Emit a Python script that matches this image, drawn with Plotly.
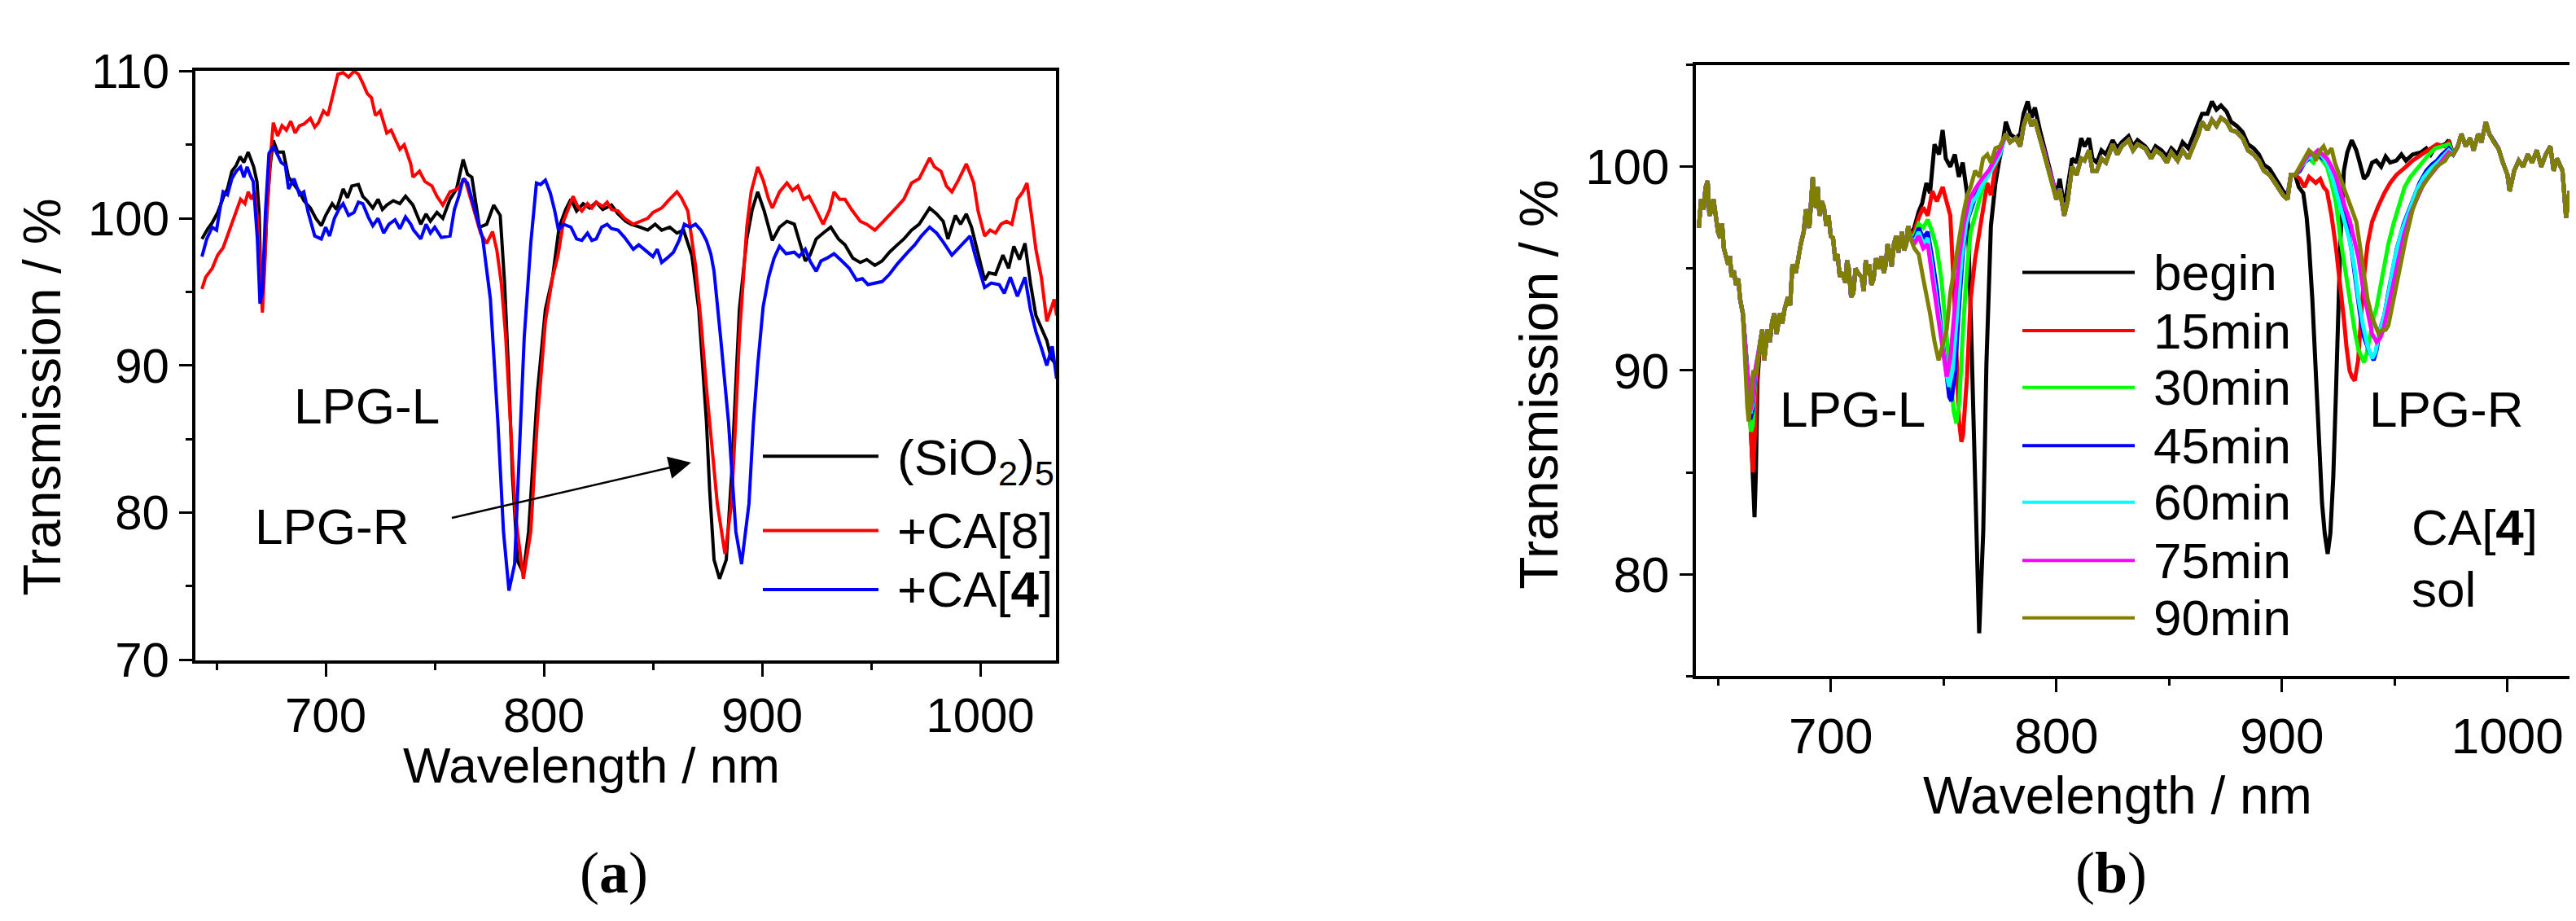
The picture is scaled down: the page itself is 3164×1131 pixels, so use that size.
import plotly.graph_objects as go

W, H = 3164, 1131

# ---------------- panel (a): (wavelength nm, transmission %)
A_NAMES = ['(SiO<sub>2</sub>)<sub>5</sub>', '+CA[8]', '+CA[<b>4</b>]']
A_COLORS = ['#000000', '#ff0000', '#0000ff']

A_SIO2 = [
    (643.3, 98.6), (646, 99.3), (648, 99.7), (650.5, 100.4), (653.3, 101.5), (655, 102.0),
    (657, 103.2), (659, 103.6), (660.8, 104.2), (662.5, 103.8), (664.5, 104.5), (666, 103.9),
    (667, 103.5), (668.5, 102.5), (669.5, 100.4), (670.5, 94.3), (672, 97.0), (673, 100.2),
    (674.5, 103.5), (676, 105.3), (678, 104.5), (680.6, 104.5), (682, 103.5), (683, 102.8),
    (685, 102.4), (688, 101.8), (690, 101.2), (693, 100.7), (695.5, 100.0), (698, 99.5),
    (700, 100.2), (703, 101.0), (705, 100.6), (708, 102.0), (710, 101.4), (712, 102.2),
    (715, 102.3), (717, 101.5), (719, 101.2), (721.6, 100.7), (724, 101.3), (726, 100.6),
    (728, 100.9), (731, 101.2), (734, 101.0), (736.6, 101.5), (740, 100.9), (743.6, 99.6),
    (746, 100.3), (748, 99.8), (751, 100.4), (753.7, 100.0), (757, 101.3), (760, 102.0),
    (763, 104.0), (765, 103.0), (767, 102.8), (770.5, 99.4), (773.8, 99.6), (777, 100.9),
    (780, 100.2), (782, 95.6), (784, 89.0), (785.6, 82.5), (788, 76.7), (790.6, 75.9),
    (793, 78.7), (795, 83.5), (797, 88.1), (800.7, 93.8), (804, 96.0), (807, 99.4),
    (810, 100.6), (812.4, 101.3), (815, 100.5), (818, 101.0), (821, 100.7), (824, 101.1),
    (827, 100.6), (831, 100.9), (834, 100.3), (837.6, 99.8), (840, 99.6), (844, 99.4),
    (847.6, 99.2), (851, 99.6), (854, 99.2), (857.7, 99.4), (861, 99.0), (864, 99.2),
    (867.8, 97.5), (871, 93.8), (874.5, 86.2), (876, 81.5), (878, 76.8), (880.5, 75.5),
    (883.6, 76.8), (886, 82.5), (888, 88.5), (889.6, 93.8), (893, 98.6), (895.5, 100.6),
    (898, 101.8), (901, 100.5), (904.7, 98.5), (908, 99.4), (911.4, 99.8), (914.8, 99.6),
    (917, 98.5), (919.8, 97.1), (922, 97.5), (924.8, 98.6), (928, 99.0), (931.5, 99.4),
    (935, 98.6), (938, 98.2), (941.6, 97.3), (945, 97.0), (948, 97.2), (951.7, 96.8),
    (955, 97.1), (958.4, 97.7), (962, 98.2), (965, 98.6), (968.5, 99.2), (972, 99.6),
    (976.8, 100.7), (980, 100.3), (983, 99.8), (985.2, 98.6), (988.6, 100.2), (991, 99.6),
    (993.6, 100.3), (996, 99.4), (999, 97.6), (1002, 95.8), (1004, 96.3), (1007, 96.2),
    (1010.4, 97.5), (1013, 96.6), (1015.4, 98.1), (1018, 97.2), (1020.5, 98.3), (1023, 95.6),
    (1025.5, 93.4), (1028, 92.6), (1030.5, 91.7), (1032.5, 90.5), (1035, 90.0),
]

A_CA8 = [
    (643.3, 95.2), (645, 96.0), (648, 96.6), (650.5, 97.5), (653, 98.0), (655, 98.8),
    (657, 99.7), (659, 100.4), (661, 101.3), (663, 101.0), (664.5, 101.8), (666, 101.3),
    (667.5, 101.8), (669, 99.5), (670.3, 96.0), (671, 93.6), (672, 96.5), (673, 100.4),
    (675, 104.7), (676, 106.5), (678, 105.6), (680, 106.3), (682, 106.0), (684, 106.6),
    (686, 105.8), (688, 106.3), (690, 106.4), (693, 106.8), (695, 106.2), (696.7, 106.5),
    (699, 107.3), (701, 107.0), (703, 108.2), (705.6, 109.8), (708, 109.9), (710.5, 109.6),
    (713, 110.0), (715, 109.8), (717, 109.2), (719, 108.5), (721, 108.2), (722.8, 107.0),
    (725, 107.3), (728, 105.8), (730, 106.0), (732, 105.4), (734, 104.7), (736, 105.0),
    (739, 103.7), (740, 102.8), (743, 103.2), (745.5, 102.5), (748.7, 102.2), (751, 101.5),
    (753.7, 100.9), (757, 101.8), (760.4, 102.0), (763.8, 102.7), (766, 101.6), (768.8, 100.2),
    (771, 99.0), (773.8, 98.3), (776.5, 99.1), (778.5, 97.8), (780.5, 95.6), (782.5, 92.0),
    (784, 88.1), (787, 79.8), (790.6, 75.5), (794, 78.7), (797, 86.2), (800.7, 93.0),
    (804, 96.0), (806.5, 97.5), (809, 99.8), (811, 100.6), (813.4, 101.5), (815.5, 100.8),
    (817.4, 100.5), (820, 101.0), (822, 100.7), (824, 101.1), (827, 100.8), (829, 101.1),
    (831, 100.6), (834, 100.5), (837, 100.0), (841, 99.6), (844, 99.8), (847.6, 100.0),
    (850, 100.4), (854, 100.7), (857, 101.2), (861, 101.8), (863, 101.4), (866, 100.5),
    (869.5, 96.8), (872, 93.0), (874.5, 88.5), (877, 84.5), (879.5, 80.6), (883, 77.2),
    (886, 80.6), (888, 86.5), (889.6, 91.9), (893, 99.4), (895, 101.8), (898, 103.5),
    (900.5, 102.6), (903, 101.3), (904.7, 100.7), (908, 101.8), (911.4, 102.4), (914, 101.9),
    (916.4, 102.2), (919, 101.3), (921.5, 101.5), (924, 100.8), (928, 99.6), (931, 100.6),
    (933, 101.8), (935.5, 101.3), (938, 101.3), (941, 100.6), (945, 99.8), (948, 99.6),
    (951.7, 99.2), (955, 99.7), (958.4, 100.2), (962, 100.8), (965, 101.3), (968.5, 102.4),
    (972, 102.7), (974.5, 103.4), (976.8, 104.1), (979, 103.5), (982, 103.2), (984.5, 102.2),
    (987, 101.8), (990, 102.6), (993.6, 103.7), (995.5, 103.0), (997, 102.4), (999, 100.5),
    (1002, 98.8), (1004.5, 99.2), (1007, 99.0), (1009.5, 99.6), (1012, 99.8), (1014.5, 99.6),
    (1017, 101.3), (1019.5, 101.8), (1021.4, 102.4), (1023.5, 100.2), (1025.5, 97.9),
    (1028, 96.0), (1030.5, 93.0), (1033.9, 94.5), (1035, 93.4),
]

A_CA4 = [
    (643.3, 97.4), (645.5, 98.6), (648, 99.4), (650, 99.2), (651.5, 100.6), (653, 101.8),
    (655, 101.6), (657, 102.7), (659, 103.2), (661, 103.5), (662.5, 102.8), (664, 103.5),
    (665.5, 102.9), (666.8, 102.5), (668.7, 98.6), (669.9, 94.2), (671, 95.0), (672.4, 100.4),
    (674, 104.4), (676, 104.9), (678, 104.3), (679.6, 103.8), (681.5, 103.6), (683, 102.0),
    (685.5, 102.7), (688, 101.6), (690, 101.8), (692, 100.4), (695, 98.8), (698, 98.6),
    (700, 99.4), (701.8, 98.8), (704, 100.0), (706, 100.6), (708, 101.0), (710.5, 100.2),
    (713, 100.4), (715, 101.1), (717, 101.0), (719.5, 100.1), (721.6, 99.5), (724, 100.0),
    (726.6, 99.0), (729, 99.6), (731.8, 99.9), (734, 99.3), (736.6, 100.1), (739, 99.6),
    (740.3, 99.2), (743.6, 98.6), (746, 99.6), (748, 99.0), (750, 99.4), (753, 98.7),
    (757, 98.8), (759, 100.6), (761, 101.5), (763, 102.7), (765, 102.4), (767, 101.3),
    (769.5, 99.8), (772, 98.6), (775.5, 94.5), (778.9, 86.2), (781.5, 78.7), (784, 74.7),
    (786.6, 76.5), (789, 84.4), (791, 91.9), (794, 98.3), (796.6, 102.4), (798.5, 102.3),
    (800.7, 102.6), (803, 101.7), (805, 100.5), (806.7, 99.2), (809, 99.6), (812.4, 99.4),
    (815, 98.6), (817.4, 98.5), (820, 99.0), (822, 98.5), (824, 98.6), (826.5, 99.4),
    (829, 99.6), (831, 99.3), (834, 99.2), (837, 98.7), (841, 97.9), (843.5, 98.2),
    (847.6, 97.7), (850, 97.4), (852, 97.9), (854, 97.0), (856.5, 97.3), (859.4, 97.7),
    (862, 98.5), (864.4, 99.6), (867, 99.4), (869.5, 99.6), (872, 99.2), (874.5, 98.5),
    (876.5, 97.6), (878, 96.4), (881, 91.9), (884.6, 86.2), (888, 78.7), (890.6, 76.5),
    (894, 80.6), (896, 86.0), (898, 90.0), (900.5, 94.0), (903, 96.0), (905.5, 97.3),
    (908, 98.1), (911, 97.6), (914.8, 97.7), (917, 97.4), (919.8, 97.9), (922, 97.1),
    (924.8, 96.4), (927, 97.1), (929.8, 97.3), (933, 97.6), (936.6, 97.1), (940, 96.6),
    (943.3, 95.8), (946, 95.9), (948.5, 95.5), (951.7, 95.6), (955, 95.7), (958.4, 96.2),
    (962, 96.9), (966.8, 97.7), (970, 98.2), (973, 98.8), (976.8, 99.4), (980, 99.0),
    (983, 98.4), (987, 97.5), (990, 98.0), (992.5, 98.4), (995.3, 98.8), (998, 97.3),
    (1002, 95.3), (1005, 95.6), (1008.7, 95.5), (1011, 94.9), (1013.8, 96.0), (1017, 94.7),
    (1020.5, 96.0), (1023, 93.8), (1025.5, 92.3), (1028, 91.2), (1030.5, 90.0), (1033, 91.3),
    (1035, 89.1),
]

# ---------------- panel (b): pieces shared by all times, plus the parts that differ
B_NAMES = ['begin', '15min', '30min', '45min', '60min', '75min', '90min']
B_COLORS = ['#000000', '#ff0000', '#00ff00', '#0000ff', '#00ffff', '#ff00ff', '#808000']

B_START = [
    (641.5, 97.0), (642.5, 98.4), (643.6, 97.9), (644.5, 99.0), (645.4, 99.3), (646.2, 97.6),
    (647, 97.8), (648, 98.4), (649, 97.6), (650, 96.8), (651, 96.5), (651.8, 97.2),
    (652.6, 96.0), (653.5, 95.6), (654.5, 95.2), (655.3, 95.6), (656, 94.6), (657, 94.9),
    (658, 94.2), (659, 94.5), (659.8, 93.5), (661, 92.8),
]
B_DIP_L = [
    [(662.6, 90.8), (663.8, 89.0), (664.8, 86.5), (665.6, 84.0), (666.2, 82.8), (666.8, 85.0), (667.5, 89.5)],
    [(662.6, 90.8), (663.8, 88.8), (664.8, 86.5), (665.5, 85.0), (666.3, 86.8), (667.3, 89.8)],
    [(662.6, 90.6), (663.6, 88.6), (664.6, 87.0), (665.4, 87.3), (666.4, 89.4)],
    [(662.6, 90.5), (663.5, 88.4), (664.4, 87.6), (665.3, 88.0), (666.5, 89.8)],
    [(662.6, 90.5), (663.5, 88.6), (664.4, 87.9), (665.3, 88.3), (666.5, 90.0)],
    [(662.6, 90.5), (663.5, 88.6), (664.3, 88.0), (665.3, 88.5), (666.5, 90.0)],
    [(662.0, 90.0), (663.0, 88.2), (663.6, 87.5), (664.5, 88.4), (665.6, 90.0), (666.8, 89.8)],
]
B_MID1 = [
    (668.7, 91.4), (669.6, 92.0), (670.5, 90.5), (671.3, 91.6), (672, 92.0), (673, 91.4),
    (674, 92.4), (675, 92.8), (676, 91.8), (677.5, 92.8), (678.5, 92.3), (679.5, 93.0),
    (681, 93.6), (682, 93.2), (683, 95.2), (684.5, 94.8), (685.5, 95.6), (686.7, 96.2),
    (688, 96.8), (689, 97.9), (690.5, 97.0), (691.2, 98.4), (692, 99.5), (692.8, 98.2),
    (693.5, 98.0), (694.2, 99.0), (695, 97.6), (696, 98.3), (697, 98.0), (698, 97.1),
    (699, 97.6), (700, 96.6), (701, 96.5), (702, 95.4), (703, 95.7), (704, 94.6),
    (705, 94.8), (706.5, 94.3), (707.2, 95.4), (708, 95.0), (709, 93.6), (710, 93.8),
    (711, 95.0), (712, 94.8), (713.6, 94.6), (714.6, 93.9), (715.5, 95.4), (716.2, 94.7),
    (717, 95.2), (718, 94.2), (719, 94.5), (720, 95.5), (721, 95.0), (722.5, 95.6),
    (723.5, 94.8), (724.4, 95.2), (725.2, 96.2), (726, 95.8), (727, 95.1), (728, 96.2),
    (729, 96.6), (730, 95.8), (731.6, 96.8), (732.5, 95.9), (733.5, 96.2), (734.3, 97.1),
    (735, 96.6),
]
B_SEG_L = [
    [(737, 97.0), (739, 97.8), (740.5, 98.2), (742.4, 99.2), (744, 98.7), (746, 101.1),
     (748, 100.6), (749.6, 101.8), (751, 100.4), (753, 100.0), (755, 100.6), (756.8, 99.5),
     (758.5, 100.2), (760.4, 98.7), (762, 93.0), (764, 84.8), (765.8, 77.1), (767.6, 82.1),
     (769, 90.3), (771, 97.1), (773, 99.2), (774.7, 100.3), (776, 101.0)],
    [(737, 96.8), (739, 97.5), (741, 98.0), (743, 97.6), (745, 98.8), (747, 98.3),
     (749.6, 99.0), (751.5, 98.3), (753, 97.6), (755, 93.0), (756.8, 87.6), (757.9, 86.5),
     (758.6, 86.8), (760.4, 89.7), (762, 93.5), (764, 95.5), (765.8, 96.8), (767.5, 98.0),
     (769.4, 99.2), (771, 98.6), (773, 100.0), (775, 100.8)],
    [(737, 96.6), (739, 97.2), (741, 97.0), (743, 97.4), (745, 96.8), (747, 96.0),
     (749, 94.5), (751, 92.0), (753, 89.5), (754.5, 88.0), (755.7, 87.4), (757, 88.5),
     (758.6, 92.0), (760.4, 95.0), (762, 96.8), (764, 97.6), (766, 98.5), (768, 99.2),
     (770, 99.7), (772, 100.3), (775, 100.8)],
    [(737, 96.4), (739, 97.0), (741, 96.5), (743, 96.8), (745, 95.5), (747, 94.0),
     (749, 92.0), (751, 90.0), (752.5, 88.7), (753.5, 88.5), (755, 89.8), (756.8, 93.0),
     (758.6, 95.8), (760.4, 97.3), (762.5, 98.0), (765, 98.8), (767, 99.3), (770, 99.7),
     (772, 100.2), (775, 100.8)],
    [(737, 96.3), (739, 96.8), (741, 96.2), (743, 96.5), (745, 95.0), (747, 93.5),
     (749, 91.8), (751, 90.0), (752.5, 89.2), (754, 90.0), (756, 92.8), (758, 95.5),
     (760, 97.2), (762.5, 98.2), (765, 98.6), (767, 99.1), (770, 99.6), (772, 100.0),
     (775, 100.6)],
    [(737, 96.2), (739, 96.6), (741, 96.0), (743, 96.2), (745, 94.6), (747, 93.0),
     (749, 91.5), (750.5, 90.2), (751.4, 89.7), (753, 90.6), (755, 93.2), (757, 95.6),
     (759, 97.2), (761.5, 98.4), (764, 98.9), (767, 99.4), (770, 99.8), (772, 100.2),
     (775, 100.8)],
    [(737, 96.0), (739, 95.7), (741, 94.5), (742.4, 93.8), (744, 92.8), (746, 91.4),
     (747.8, 90.5), (749.5, 91.2), (751.4, 92.0), (753, 93.8), (755, 95.2), (756.8, 96.5),
     (758.6, 97.6), (760.5, 98.6), (762, 99.0), (764, 99.8), (766, 99.5), (767.5, 100.4),
     (769.4, 100.6), (771, 100.2), (773, 100.9), (775, 101.0)],
]
B_MID2 = [
    (777.6, 101.6), (779.5, 101.2), (782, 101.4), (784, 101.0), (785.5, 102.0), (787.3, 102.6),
    (789, 102.0), (790.5, 102.3), (792.7, 101.4), (794.5, 100.8), (796.3, 100.0), (798, 99.4),
    (800, 98.4), (801.5, 98.9), (803.5, 97.6), (805, 98.3), (807, 100.0), (809, 99.6),
    (811, 100.4), (812.5, 100.3), (814.5, 100.8), (816, 99.8), (818, 99.8), (820, 100.4),
    (822, 100.2), (825, 101.1), (827, 100.6), (829, 101.0), (832, 101.3), (834, 100.8),
    (836, 101.1), (839.4, 100.9), (842, 100.4), (844, 100.8), (846.6, 100.6), (849, 100.2),
    (851, 100.7), (853.8, 100.3), (856, 100.8), (858.5, 100.4), (861, 101.1), (863, 101.6),
    (864.6, 102.2), (867, 101.8), (869, 102.3), (871, 102.0), (873, 102.4), (875.5, 102.2),
    (877.5, 101.8), (880, 101.7), (882.6, 101.4), (885, 100.8), (887.5, 100.6), (889.8, 100.3),
    (892, 99.8), (894.5, 99.6), (897, 99.2), (899, 98.9), (900.5, 98.6), (902.5, 98.4),
    (904, 99.6),
]
B_MID2_BEGIN = [
    (777.6, 102.2), (779.5, 101.6), (782, 101.4), (784, 101.6), (785.5, 102.6), (787.3, 103.2),
    (789, 102.4), (790.5, 102.9), (792.7, 101.8), (794.5, 101.0), (796.3, 100.2), (798, 99.6),
    (800, 98.6), (801.5, 99.4), (803.5, 98.0), (805, 99.0), (807, 100.4), (809, 100.2),
    (811, 101.4), (812.5, 101.0), (814.5, 101.4), (816, 100.4), (818, 100.2), (820, 100.8),
    (822, 100.6), (825, 101.3), (827, 100.9), (829, 101.2), (832, 101.5), (834, 101.0),
    (836, 101.3), (839.4, 101.0), (842, 100.6), (844, 101.0), (846.6, 100.8), (849, 100.5),
    (851, 100.9), (853.8, 100.6), (856, 101.2), (858.5, 100.9), (861, 101.6), (863, 102.2),
    (864.6, 102.6), (867, 102.6), (869, 103.2), (871, 102.8), (873, 103.0), (875.5, 102.7),
    (877.5, 102.2), (880, 102.0), (882.6, 101.7), (885, 101.1), (887.5, 100.9), (889.8, 100.6),
    (892, 100.1), (894.5, 99.9), (897, 99.5), (899, 99.1), (900.5, 98.8), (902.5, 98.6),
    (904, 99.6),
]
B_SEG_R = [
    [(905.9, 99.6), (907.5, 99.0), (909.5, 98.7), (911, 97.5), (912, 96.2), (913.5, 93.5),
     (915, 90.3), (916.5, 87.0), (917.8, 83.5), (919, 82.0), (920.3, 81.0), (921.5, 82.0),
     (922.8, 84.8), (924, 89.0), (925, 93.0), (926, 96.5), (927.5, 99.8), (929, 100.7),
     (931, 101.3), (933, 100.8), (934.5, 100.2), (936.4, 99.4), (938, 99.6), (940, 100.2),
     (941.8, 100.3), (944, 100.0), (946, 100.5), (948, 100.2), (950.8, 100.3), (953, 100.6),
     (955, 100.3), (958, 100.6), (961.6, 100.7), (964, 100.9), (966, 100.6), (968, 101.0),
     (970, 101.0), (972.4, 101.1), (974, 101.3)],
    [(905.9, 99.6), (908, 99.4), (910, 99.0), (912, 99.5), (913, 99.4), (915, 99.2),
     (917, 99.4), (918.5, 99.0), (920, 98.8), (922, 97.6), (924, 96.0), (925.9, 94.3),
     (927.5, 92.5), (928.7, 91.1), (930, 90.0), (931, 89.7), (932.3, 89.5), (933.8, 90.5),
     (935, 92.5), (936.4, 94.6), (938, 96.2), (940, 97.3), (942.5, 98.0), (945.4, 98.7),
     (948, 99.2), (950.8, 99.6), (954, 99.9), (958, 100.3), (962, 100.6), (965, 100.8),
     (968.8, 101.1), (972, 101.0), (974, 101.2)],
    [(905.9, 99.6), (908, 99.8), (910, 100.2), (912, 100.4), (914, 100.2), (916, 100.6),
     (918, 100.3), (920, 100.0), (922, 99.2), (924, 98.2), (925.9, 96.5), (928, 95.0),
     (929.5, 93.8), (931, 92.8), (932.5, 91.8), (934, 91.0), (935.5, 90.6), (936.4, 90.4),
     (937.5, 90.8), (939, 91.8), (940.5, 92.5), (941.8, 93.0), (943.5, 94.0), (945, 95.0),
     (947.2, 96.2), (949.5, 97.2), (952, 98.2), (954.4, 99.0), (957, 99.5), (960, 99.9),
     (962.5, 100.3), (965.2, 100.6), (968, 100.9), (971, 101.0), (974, 101.1)],
    [(905.9, 99.6), (908, 99.8), (910, 100.2), (912, 100.4), (914, 100.5), (916, 100.6),
     (918, 100.4), (920, 100.3), (922, 99.8), (924, 99.0), (926, 98.2), (928, 97.5),
     (929.2, 97.0), (931, 95.8), (932.5, 94.5), (934.6, 92.8), (936.5, 91.6), (938.5, 91.0),
     (940.7, 90.5), (942, 91.0), (943.5, 92.0), (945.4, 92.7), (947.5, 94.0), (950.8, 95.9),
     (954, 97.2), (958, 98.4), (961, 99.2), (964, 99.8), (966.5, 100.1), (968.8, 100.3),
     (971, 100.6), (974, 100.9)],
    [(905.9, 99.6), (908, 99.9), (910, 100.2), (912, 100.5), (914, 100.4), (916, 100.7),
     (918, 100.5), (920, 100.2), (922, 99.6), (924, 98.8), (926, 98.0), (928, 97.2),
     (930, 96.4), (932, 95.2), (934, 93.5), (936, 92.2), (938, 91.2), (940, 90.6),
     (941.5, 90.9), (943, 91.8), (945, 92.5), (947, 93.6), (950, 95.5), (953, 96.8),
     (957, 98.0), (960, 98.9), (963, 99.5), (966, 99.9), (969, 100.2), (971.5, 100.5),
     (974, 100.8)],
    [(905.9, 99.6), (908, 99.9), (910, 100.3), (912, 100.6), (914, 100.6), (916, 100.8),
     (918, 100.6), (920, 100.4), (922, 100.0), (924, 99.5), (926, 98.8), (928, 98.0),
     (930, 97.4), (932, 96.5), (934, 95.5), (936, 94.0), (938, 92.8), (940, 91.8),
     (942, 91.4), (943.6, 91.6), (945, 92.0), (947, 93.0), (949, 94.0), (951, 95.2),
     (954, 96.6), (957, 97.7), (960, 98.5), (963, 99.2), (966, 99.6), (969, 100.0),
     (971.5, 100.4), (974, 100.7)],
    [(905.9, 99.6), (908, 100.0), (910, 100.4), (912, 100.8), (914, 100.6), (915, 100.3),
     (917, 100.8), (918.5, 101.0), (920, 100.6), (922, 100.9), (923.5, 100.2), (925.9, 99.4),
     (928, 98.8), (930, 98.2), (931.5, 97.8), (933, 97.3), (934.5, 96.2), (936.4, 94.6),
     (938, 93.5), (940, 92.6), (941.5, 92.2), (942.9, 91.8), (944.5, 92.0), (946, 92.0),
     (947.2, 92.2), (949, 93.2), (950.8, 94.2), (952.6, 95.2), (955, 96.5), (958, 97.9),
     (961, 98.8), (965.2, 99.5), (968.5, 100.0), (972.4, 100.3), (974, 100.6)],
]
B_END = [
    (976, 100.6), (978, 101.0), (979.6, 101.6), (981.5, 101.0), (983.5, 101.4), (985, 100.8),
    (987, 101.6), (988.5, 101.2), (990.4, 102.2), (992, 101.6), (994, 101.2), (996, 100.9),
    (998, 100.2), (1000, 99.6), (1001, 98.8), (1003, 99.8), (1005, 100.3), (1007, 100.0),
    (1009, 100.6), (1011, 100.2), (1013, 100.8), (1015, 100.0), (1017, 100.6), (1019, 101.0),
    (1020.5, 99.8), (1022, 100.4), (1024.4, 99.8), (1026, 97.5), (1027.5, 98.8), (1029, 97.8),
    (1030.4, 97.6),
]

FONT = 'Liberation Sans, Arial, sans-serif'
SERIF = 'Liberation Serif, Times New Roman, serif'


def px(x):
    return x / W


def py(y):
    return 1 - y / H


def text(x, y, s, size=62, xanchor='center', angle=0, family=FONT):
    return dict(x=px(x), y=py(y), xref='paper', yref='paper', text=s, showarrow=False,
                xanchor=xanchor, yanchor='middle', textangle=angle,
                font=dict(family=family, size=size, color='black'))


fig = go.Figure()

for name, color, pts in zip(A_NAMES, A_COLORS, [A_SIO2, A_CA8, A_CA4]):
    fig.add_trace(go.Scatter(x=[p[0] for p in pts], y=[p[1] for p in pts], mode='lines',
                             line=dict(color=color, width=4), name=name, showlegend=False,
                             xaxis='x', yaxis='y'))

for i, (name, color) in enumerate(zip(B_NAMES, B_COLORS)):
    mid = B_MID2_BEGIN if i == 0 else B_MID2
    pts = B_START + B_DIP_L[i] + B_MID1 + B_SEG_L[i] + mid + B_SEG_R[i] + B_END
    fig.add_trace(go.Scatter(x=[p[0] for p in pts], y=[p[1] for p in pts], mode='lines',
                             line=dict(color=color, width=5), name=name, showlegend=False,
                             xaxis='x2', yaxis='y2'))

axis_style = dict(showgrid=False, zeroline=False, showline=True, linecolor='black', linewidth=4,
                  mirror=True, ticks='outside', ticklen=16, tickwidth=3, tickcolor='black')
minor_x = dict(dtick=50, tick0=0, ticklen=8, tickwidth=3, ticks='outside', tickcolor='black')
minor_y = dict(dtick=5, tick0=0, ticklen=8, tickwidth=3, ticks='outside', tickcolor='black')

fig.update_layout(
    width=W, height=H, autosize=False,
    margin=dict(l=0, r=0, t=0, b=0),
    paper_bgcolor='white', plot_bgcolor='white',
    showlegend=False,
    xaxis=dict(domain=[px(232), px(1289)], anchor='y', range=[640.3, 1034.7],
               tickvals=[700, 800, 900, 1000], minor=minor_x, ticklabelstandoff=-4,
               tickfont=dict(family=FONT, size=60, color='black'), **axis_style),
    yaxis=dict(domain=[py(818), py(49)], anchor='x', range=[69.98, 110.02],
               tickvals=[70, 80, 90, 100, 110], minor=minor_y,
               tickfont=dict(family=FONT, size=60, color='black'), **axis_style),
    xaxis2=dict(domain=[px(2075), px(3156)], anchor='y2', range=[640.2, 1030.4],
                tickvals=[700, 800, 900, 1000], minor=minor_x,
                tickfont=dict(family=FONT, size=62, color='black'), **axis_style),
    yaxis2=dict(domain=[py(839), py(41)], anchor='x2', range=[75, 105],
                tickvals=[80, 90, 100], minor=minor_y,
                tickfont=dict(family=FONT, size=62, color='black'), **axis_style),
)

annotations = [
    # axis titles
    text(718, 955, 'Wavelength / nm', size=62),
    text(44, 475, 'Transmission / %', size=64, angle=-90),
    text(2593, 995, 'Wavelength / nm', size=64),
    text(1882, 458, 'Transmission / %', size=66, angle=-90),
    # panel labels
    text(746, 1096, '(<b>a</b>)', size=72, family=SERIF),
    text(2585, 1096, '(<b>b</b>)', size=72, family=SERIF),
    # in-plot labels
    text(442, 486, 'LPG-L'),
    text(400, 644, 'LPG-R'),
    text(2267, 491, 'LPG-L'),
    text(2996, 491, 'LPG-R'),
    text(2952, 645, 'CA[<b>4</b>]', xanchor='left'),
    text(2952, 725, 'sol', xanchor='left'),
    # arrow from LPG-R label to the right-hand dip
    dict(x=867.5, y=83.4, ax=756.7, ay=79.6, xref='x', yref='y', axref='x', ayref='y',
         text=' ', showarrow=True, arrowhead=2, arrowsize=2.2, arrowwidth=2.5,
         arrowcolor='black', standoff=0, startstandoff=0),
]

shapes = []
# hand-placed legends (long line samples as in the original)
for name, color, ly in zip(A_NAMES, A_COLORS, [552, 649, 726]):
    shapes.append(dict(type='line', xref='paper', yref='paper', x0=px(929), x1=px(1071),
                       y0=py(ly), y1=py(ly), line=dict(color=color, width=4)))
    annotations.append(text(1092, ly + (6 if '<sub>' in name else 0), name, size=62, xanchor='left'))

for name, color, ly in zip(B_NAMES, B_COLORS, [312, 388, 462, 538, 612, 688, 763]):
    shapes.append(dict(type='line', xref='paper', yref='paper', x0=px(2476), x1=px(2614),
                       y0=py(ly), y1=py(ly), line=dict(color=color, width=4)))
    annotations.append(text(2635, ly, name, size=62, xanchor='left'))

fig.update_layout(annotations=annotations, shapes=shapes)

fig.write_html('out.html')
